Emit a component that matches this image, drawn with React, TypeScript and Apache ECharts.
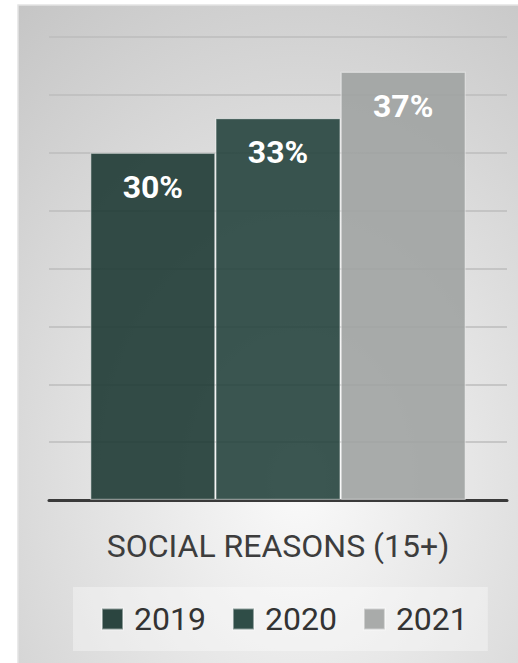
import React, { useEffect, useRef } from "react";
import * as echarts from "echarts";

const categories = ["SOCIAL REASONS (15+)"];
const seriesNames = ["2019", "2020", "2021"];
const values2019 = [30];
const values2020 = [33];
const values2021 = [37];
const seriesValues = [values2019, values2020, values2021];
const seriesColors = ["rgba(30,58,52,0.9)", "rgba(38,68,62,0.9)", "rgba(160,163,162,0.9)"];
const legendColors = ["#2b4540", "#2f4d47", "#a9abaa"];

export default function App() {
  const ref = useRef<HTMLDivElement>(null);
  useEffect(() => {
    if (!ref.current) return;
    const chart = echarts.init(ref.current, null, { renderer: "svg" });
    const font = "Roboto, 'Noto Sans', sans-serif";
    chart.setOption({
      animation: false,
      textStyle: { fontFamily: font },
      graphic: [
        {
          type: "rect",
          z: -10,
          silent: true,
          shape: { x: 18, y: 5, width: 502, height: 660 },
          style: {
            fill: new echarts.graphic.RadialGradient(0.56, 0.72, 1.0, [
              { offset: 0, color: "#fafafa" },
              { offset: 1, color: "#c0c0c0" },
            ]),
            stroke: "#e4e4e4",
            lineWidth: 1.5,
          },
        },
      ],
      grid: { left: 49, right: 11, top: 37, bottom: 163 },
      legend: {
        data: seriesNames.map((name, i) => ({ name, itemStyle: { color: legendColors[i] } })),
        left: 73,
        top: 587,
        padding: [16, 20, 16, 28],
        backgroundColor: "rgba(255,255,255,0.35)",
        itemWidth: 21,
        itemHeight: 21,
        itemGap: 26,
        icon: "rect",
        textStyle: {
          fontFamily: font,
          fontSize: 32,
          color: "#333333",
          lineHeight: 31,
          padding: [0, 0, 0, 6],
        },
      },
      xAxis: {
        type: "category",
        data: categories,
        axisLine: { show: true, lineStyle: { color: "#3a3a3a", width: 3 } },
        axisTick: { show: false },
        axisLabel: { fontFamily: font, fontSize: 32, color: "#3d3d3d", margin: 30 },
      },
      yAxis: {
        type: "value",
        min: 0,
        max: 40,
        interval: 5,
        axisLabel: { show: false },
        axisLine: { show: false },
        axisTick: { show: false },
        splitLine: { lineStyle: { color: "#bcbcbc", width: 1.5 } },
      },
      series: seriesNames.map((name, i) => ({
        name,
        type: "bar",
        data: seriesValues[i],
        barGap: "0%",
        barCategoryGap: "18%",
        itemStyle: {
          color: seriesColors[i],
          borderColor: "rgba(255,255,255,0.45)",
          borderWidth: 1.2,
        },
        label: {
          show: true,
          position: ["50%", 34],
          align: "center",
          verticalAlign: "middle",
          formatter: "{c}%",
          fontFamily: font,
          fontSize: 32,
          fontWeight: "bold",
          color: "#ffffff",
        },
      })),
    });
    return () => chart.dispose();
  }, []);
  return (
    <div
      ref={ref}
      style={{ position: "fixed", left: 0, top: 0, width: 518, height: 663, background: "#ffffff" }}
    />
  );
}
